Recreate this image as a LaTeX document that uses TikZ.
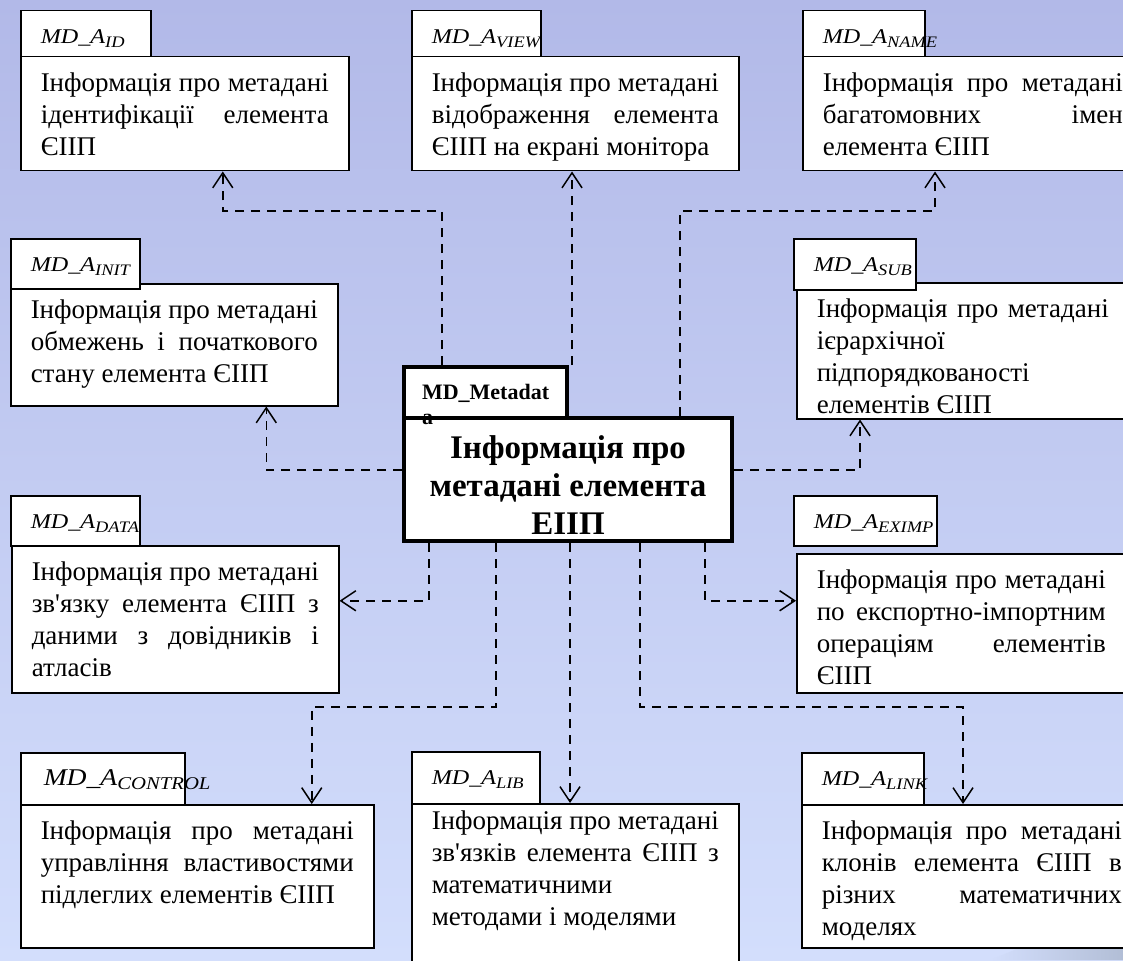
\documentclass[tikz,border=0pt]{standalone}
\usepackage{fontspec}
\setmainfont{Liberation Serif}
\newfontfamily\labelfont[FakeStretch=1.15]{Liberation Serif}
\usetikzlibrary{arrows.meta}

\definecolor{bgtop}{RGB}{178,185,232}
\definecolor{bgbot}{RGB}{211,222,252}
\definecolor{bgcorner}{RGB}{178,190,214}
\newcommand{\infotext}[3]{\parbox[c][#1][t]{#2}{#3}}
\newcommand{\mdlabel}[2][16]{\labelfont\itshape MD\_A\raisebox{-4pt}{\fontsize{#1}{#1}\selectfont #2}}
\hyphenpenalty=10000
\exhyphenpenalty=10000
\tolerance=10000
\hbadness=10000

\begin{document}
\begin{tikzpicture}
    [x=1pt, y=-1pt,
     infobox/.style={rectangle, draw=black, fill=white, line width=1.5pt,
       anchor=north west, inner xsep=20pt, inner ysep=16pt,
       font=\fontsize{27}{32}\selectfont},
     tabbox/.style={rectangle, draw=black, fill=white, line width=1.5pt,
       anchor=north west, inner xsep=20pt, inner ysep=6pt, text height=27pt,
       text depth=#1, align=left, font=\fontsize{21}{24}\selectfont},
     tabbox/.default=7pt,
     mainbox/.style={rectangle, draw=black, fill=white, line width=4pt,
       anchor=north west},
     link/.style={draw=black, line width=1.5pt, dash pattern=on 9pt off 7pt,
       -{Straight Barb[length=15pt, width=20pt]}}]
    \useasboundingbox (0,0) rectangle (1123,960);
    \fill[top color=bgtop, bottom color=bgbot] (0,0) rectangle (1123,960);
    \shade[left color=bgbot, right color=bgcorner] (990,960) -- (1123,905) -- (1123,960) -- cycle;
    \clip (0,0) rectangle (1123,960);

    % top row
    \node[infobox] (idbox) at (20,56) {\infotext{82pt}{288pt}{Інформація про метадані\linebreak ідентифікації елемента\linebreak ЄІІП}};
    \node[tabbox, text width=90pt] (idtab) at (20,10) {\mdlabel{ID}};
    \node[infobox] (viewbox) at (411,56) {\infotext{82pt}{287pt}{Інформація про метадані\linebreak відображення елемента\linebreak ЄІІП на екрані монітора}};
    \node[tabbox, text width=89pt] (viewtab) at (411,10) {\mdlabel{VIEW}};
    \node[infobox] (namebox) at (802,56) {\infotext{82pt}{300pt}{Інформація про метадані\linebreak багатомовних імен\linebreak елемента ЄІІП}};
    \node[tabbox, text width=82pt] (nametab) at (802,10) {\mdlabel{NAME}};

    % middle rows
    \node[infobox] (initbox) at (10,283) {\infotext{90pt}{287pt}{Інформація про метадані\linebreak обмежень і початкового\linebreak стану елемента ЄІІП}};
    \node[tabbox=11pt, text width=89pt] (inittab) at (10,238) {\mdlabel{INIT}};
    \node[infobox] (subbox) at (796,282) {\infotext{104pt}{292pt}{Інформація про метадані\linebreak ієрархічної\linebreak підпорядкованості\linebreak елементів ЄІІП}};
    \node[tabbox=12pt, text width=82pt] (subtab) at (793,238) {\mdlabel{SUB}};
    \node[infobox] (databox) at (11,545) {\infotext{115pt}{287pt}{Інформація про метадані\linebreak зв\textquotesingle язку елемента ЄІІП з\linebreak даними з довідників і\linebreak атласів}};
    \node[tabbox=11pt, text width=89pt] (datatab) at (10,495) {\mdlabel{DATA}};
    \node[infobox] (eximpbox) at (796,553) {\infotext{107pt}{289pt}{Інформація про метадані\linebreak по експортно-імпортним\linebreak операціям елементів\linebreak ЄІІП}};
    \node[tabbox=11pt, text width=103pt] (eximptab) at (793,495) {\mdlabel{EXIMP}};

    % bottom row
    \node[infobox] (controlbox) at (20,804) {\infotext{111pt}{313pt}{Інформація про метадані\linebreak управління властивостями\linebreak підлеглих елементів ЄІІП}};
    \node[tabbox=13pt, text width=118pt, inner xsep=23pt, font=\fontsize{24}{26}\selectfont] (controltab) at (20,752) {\mdlabel[18]{CONTROL}};
    \node[infobox, inner ysep=7pt] (libbox) at (411,803) {\infotext{180pt}{287pt}{Інформація про метадані\linebreak зв\textquotesingle язків елемента ЄІІП з\linebreak математичними\linebreak методами і моделями}};
    \node[tabbox=13pt, text width=88pt] (libtab) at (411,751) {\mdlabel{LIB}};
    \node[infobox] (linkbox) at (801,804) {\infotext{111pt}{300pt}{Інформація про метадані\linebreak клонів елемента ЄІІП в\linebreak різних математичних\linebreak моделях}};
    \node[tabbox=13pt, text width=82pt] (linktab) at (801,752) {\mdlabel{LINK}};

    % centre
    \node[mainbox, inner xsep=4pt, inner ysep=18pt,
      font=\bfseries\fontsize{33}{38}\selectfont] (mdbox) at (402,416)
      {\parbox[c][87pt][t]{320pt}{\centering Інформація про\\метадані елемента\\ЕІІП}};
    \node[mainbox, inner xsep=18pt, inner ysep=17pt,
      font=\bfseries\fontsize{22}{25}\selectfont] (mdtab) at (402,365)
      {\parbox[c][17pt][t]{127pt}{MD\_Metadat\\a}};

    % connectors
    \coordinate (topbus) at (0,211);
    \coordinate (botbus) at (0,707);
    \coordinate (idout) at ([xshift=40pt]mdtab.north west);
    \coordinate (idin) at ([xshift=38pt]idbox.south);
    \coordinate (viewout) at ([xshift=3pt]mdtab.north east);
    \coordinate (nameout) at ([xshift=112pt]mdbox.north);
    \coordinate (namein) at ([xshift=133pt]namebox.south west);
    \coordinate (initout) at ([yshift=9.5pt]mdbox.west);
    \coordinate (initin) at ([xshift=92pt]initbox.south);
    \coordinate (subout) at ([yshift=9.5pt]mdbox.east);
    \coordinate (subin) at ([xshift=64pt]subbox.south west);
    \coordinate (dataout) at ([xshift=27pt]mdbox.south west);
    \coordinate (datain) at ([yshift=18.5pt]databox.east);
    \coordinate (eximpout) at ([xshift=-29pt]mdbox.south east);
    \coordinate (eximpin) at ([yshift=22.5pt]eximpbox.west);
    \coordinate (controlout) at ([xshift=94pt]mdbox.south west);
    \coordinate (controlin) at ([xshift=114.5pt]controlbox.north);
    \coordinate (libout) at ([xshift=2pt]mdbox.south);
    \coordinate (linkout) at ([xshift=-94pt]mdbox.south east);
    \coordinate (linkin) at ([xshift=162pt]linkbox.north west);

    \draw[link] (idout) |- (idin |- topbus) -- (idin);
    \draw[link] (viewout) -- (viewout |- viewbox.south);
    \draw[link] (nameout) |- (namein |- topbus) -- (namein);
    \draw[link] (initout) -| (initin);
    \draw[link] (subout) -| (subin);
    \draw[link] (dataout) |- (datain);
    \draw[link] (eximpout) |- (eximpin);
    \draw[link] (controlout) |- (controlin |- botbus) -- (controlin);
    \draw[link] (libout) -- (libout |- libbox.north);
    \draw[link] (linkout) |- (linkin |- botbus) -- (linkin);
\end{tikzpicture}
\end{document}
